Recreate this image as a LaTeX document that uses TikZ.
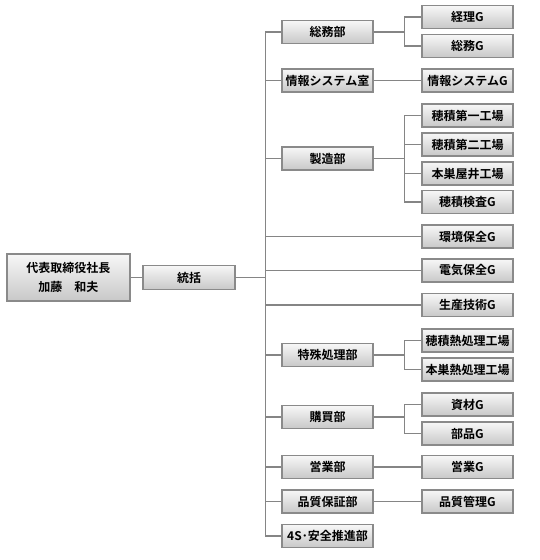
\documentclass[tikz,border=0pt]{standalone}
\usepackage{fontspec}
\usepackage{tikz}
\usepackage{xcolor}
\setmainfont{Noto Sans CJK JP}[BoldFont={Noto Sans CJK JP Bold}]
\definecolor{box_line}{HTML}{8A8A8A}
\definecolor{box_top}{HTML}{F7F7F7}
\definecolor{box_bottom}{HTML}{C8C8C8}
\definecolor{link_gray}{HTML}{858585}

\begin{document}
\begin{tikzpicture}[x=1pt, y=-1pt,
    box_style/.style={draw=box_line, line width=1.3pt, top color=box_top, bottom color=box_bottom,
        minimum width=91pt, minimum height=23pt, inner sep=0pt, font=\fontsize{12pt}{14pt}\selectfont\bfseries},
    head_style/.style={box_style, minimum width=123pt, minimum height=47pt, align=center,
        font=\fontsize{12pt}{19pt}\selectfont\bfseries},
    link_style/.style={draw=link_gray, line width=1.2pt}
]
    \useasboundingbox (0,0) rectangle (540,560);

    % Top of the chart
    \node (ceo) at (68.5,277.5) [head_style] {代表取締役社長\\加藤　和夫};
    \node (tokatsu) at (189,277.5) [box_style, minimum width=92pt, minimum height=24pt] {統括};

    % Departments
    \node (somu) at (327.5,32) [box_style] {総務部};
    \node (joho) at (327.5,80.5) [box_style] {情報システム室};
    \node (seizo) at (327.5,158.5) [box_style] {製造部};
    \node (tokushu) at (327.5,355) [box_style] {特殊処理部};
    \node (kobai) at (327.5,417) [box_style] {購買部};
    \node (eigyo) at (327.5,467) [box_style] {営業部};
    \node (hinsho) at (327.5,501.5) [box_style] {品質保証部};
    \node (anzen) at (327.5,536) [box_style] {4S･安全推進部};

    % Groups and plants
    \node (keiri) at (467.5,17) [box_style] {経理G};
    \node (somug) at (467.5,46) [box_style] {総務G};
    \node (johog) at (467.5,80.5) [box_style] {情報システムG};
    \node (hozumi1) at (467.5,115.5) [box_style] {穂積第一工場};
    \node (hozumi2) at (467.5,144.5) [box_style] {穂積第二工場};
    \node (motosu) at (467.5,173.5) [box_style] {本巣屋井工場};
    \node (kensa) at (467.5,202) [box_style] {穂積検査G};
    \node (kankyo) at (467.5,236.5) [box_style] {環境保全G};
    \node (denki) at (467.5,270.5) [box_style] {電気保全G};
    \node (seisan) at (467.5,305) [box_style] {生産技術G};
    \node (netsu1) at (467.5,340.5) [box_style] {穂積熱処理工場};
    \node (netsu2) at (467.5,369.5) [box_style] {本巣熱処理工場};
    \node (shizai) at (467.5,404.5) [box_style] {資材G};
    \node (buhin) at (467.5,433.5) [box_style] {部品G};
    \node (eigyog) at (467.5,467) [box_style] {営業G};
    \node (hinkan) at (467.5,501.5) [box_style] {品質管理G};

    % Links
    \draw[link_style] (ceo.east) -- (tokatsu.west);
    \foreach \n in {somu,joho,seizo,kankyo,denki,seisan,tokushu,kobai,eigyo,hinsho,anzen}
        \draw[link_style] (tokatsu.east) -- ++(30,0) |- (\n.west);
    \foreach \p/\c in {somu/keiri, somu/somug, joho/johog, seizo/hozumi1, seizo/hozumi2,
        seizo/motosu, seizo/kensa, tokushu/netsu1, tokushu/netsu2, kobai/shizai,
        kobai/buhin, eigyo/eigyog, hinsho/hinkan}
        \draw[link_style] (\p.east) -- ++(31,0) |- (\c.west);

\end{tikzpicture}
\end{document}
